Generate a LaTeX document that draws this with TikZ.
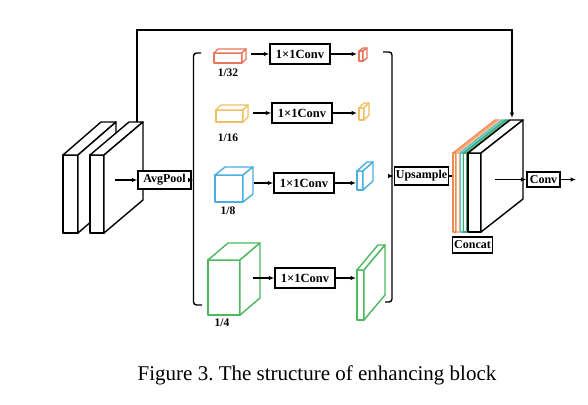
\documentclass[tikz,border=0pt]{standalone}
\usepackage{fontspec}
\setmainfont{Liberation Serif}
\usetikzlibrary{arrows.meta}
\definecolor{cred}{HTML}{E8765A}
\definecolor{cyel}{HTML}{EFC062}
\definecolor{cblu}{HTML}{4AAEE0}
\definecolor{cgrn}{HTML}{4CB860}
\definecolor{lorg}{HTML}{EE8A55}
\definecolor{lpea}{HTML}{F5B585}
\definecolor{lcya}{HTML}{4EC3C8}
\definecolor{lgrn}{HTML}{3DAA6A}
\frenchspacing
\newcommand\mycuboid[7]{%
  \draw[#1, fill=white, line join=round] (#2,#3) rectangle (#4,#5);
  \draw[#1, fill=white, line join=round] (#2,#3) -- (#2+#6,#3-#7) -- (#4+#6,#3-#7) -- (#4,#3) -- cycle;
  \draw[#1, fill=white, line join=round] (#4,#3) -- (#4+#6,#3-#7) -- (#4+#6,#5-#7) -- (#4,#5) -- cycle;
}
\tikzset{
  lbl/.style={font=\fontsize{11.5}{13}\selectfont\bfseries, inner sep=1.5pt},
  box/.style={draw, line width=1.4pt, fill=white, font=\fontsize{12}{14}\selectfont\bfseries, inner sep=1.5pt},
  convbox/.style={box, minimum width=60pt, minimum height=20pt, font=\fontsize{12.5}{14}\selectfont\bfseries},
  arr/.style={-{Latex[length=5.5pt,width=4.5pt]}, line width=1.3pt},
  ln/.style={line width=1.4pt},
  cube/.style={line width=1.4pt},
}
\begin{document}
\begin{tikzpicture}[x=1pt,y=-1pt]
\useasboundingbox (0,0) rectangle (588,404);
\fill[white] (0,0) rectangle (588,404);

% skip connection
\coordinate (skipS) at (137,122);
\coordinate (skipA) at (137,30);
\coordinate (skipB) at (512,30);
\coordinate (skipE) at (512,118);
\draw[arr, line width=1.4pt] (skipS) -- (skipA) -- (skipB) -- (skipE);

% input feature maps
\mycuboid{cube,black}{63}{155}{78}{233}{38}{33}
\mycuboid{cube,black}{90}{155}{104}{233}{39}{33}

% AvgPool
\node[box, minimum width=53pt, minimum height=18pt] (avg) at (164.5,180) {AvgPool};
\coordinate (inS) at (115,180);
\draw[arr] (inS) -- (avg.west);

% left bracket
\coordinate (lbT) at (201,53);
\coordinate (lbB) at (202,305);
\coordinate (lbM) at (193.5,180);
\draw[ln, rounded corners=3pt] (lbT) -- (193.5,53) -- (193.5,305) -- (lbB);
\draw[arr] (avg.east) -- (lbM);

% right bracket
\coordinate (rbT) at (383,52);
\coordinate (rbB) at (385,302);
\coordinate (rbM) at (392,176);
\draw[ln, rounded corners=3pt] (rbT) -- (392,52) -- (392,302) -- (rbB);

% branch inputs
\mycuboid{cube,cred}{214}{53}{242}{63}{4}{4}
\mycuboid{cube,cyel}{216}{110}{243}{122}{5}{5}
\mycuboid{cube,cblu}{215}{175}{243}{202}{10}{8}
\mycuboid{cube,cgrn}{208}{260}{240}{315}{20}{17}
\node[lbl] (t1) at (228,73) {1/32};
\node[lbl] (t2) at (228,138) {1/16};
\node[lbl] (t3) at (228,211) {1/8};
\node[lbl] (t4) at (222,323) {1/4};

% conv boxes
\node[convbox] (c1) at (300,54) {1×1Conv};
\node[convbox] (c2) at (302,113) {1×1Conv};
\node[convbox] (c3) at (304,183) {1×1Conv};
\node[convbox] (c4) at (305,278) {1×1Conv};

\coordinate (s1) at (251,54);
\coordinate (s2) at (253,113);
\coordinate (s3) at (254,183);
\coordinate (s4) at (253,278);
\coordinate (e1) at (357,54);
\coordinate (e2) at (357,113);
\coordinate (e3) at (356,183);
\coordinate (e4) at (356,278);
\draw[arr] (s1) -- (c1);
\draw[arr] (s2) -- (c2);
\draw[arr] (s3) -- (c3);
\draw[arr] (s4) -- (c4);
\draw[arr] (c1) -- (e1);
\draw[arr] (c2) -- (e2);
\draw[arr] (c3) -- (e3);
\draw[arr] (c4) -- (e4);

% branch outputs
\mycuboid{cube,cred}{359}{51}{363}{61}{4}{3}
\mycuboid{cube,cyel}{359}{108}{364}{120}{5}{5}
\mycuboid{cube,cblu}{357}{171}{363}{190}{10}{9}
\mycuboid{cube,cgrn}{357}{270}{364}{320}{21}{25}

% upsample
\node[box, minimum width=53pt, minimum height=18pt] (up) at (421.5,176) {Upsample};
\draw[arr] (rbM) -- (up.west);
\coordinate (catIn) at (453,176);
\draw[ln] (up.east) -- (catIn);

% concat stack
\mycuboid{line width=1.3pt,lorg}{453}{153}{456}{232}{42}{33}
\mycuboid{line width=1.3pt,lpea}{456.6}{153}{459.6}{232}{42}{33}
\mycuboid{line width=1.3pt,lcya}{460.2}{153}{463.2}{232}{42}{33}
\mycuboid{line width=1.3pt,lgrn}{463.8}{153}{466.8}{232}{42}{33}
\mycuboid{cube,black}{468}{153}{481}{232}{42}{33}
\node[box, minimum width=39pt, minimum height=16pt] (cat) at (472.5,245) {Concat};

% final conv
\node[box, minimum width=33pt, minimum height=15pt] (conv) at (543.5,179.5) {Conv};
\coordinate (fS) at (495,179.5);
\coordinate (fE) at (576,179.5);
\draw[arr] (fS) -- (conv.west);
\draw[arr] (conv.east) -- (fE);

% caption
\node[font=\fontsize{21}{24}\selectfont, inner sep=0pt] (cap) at (317,375) {Figure 3. The structure of enhancing block};
\end{tikzpicture}
\end{document}
